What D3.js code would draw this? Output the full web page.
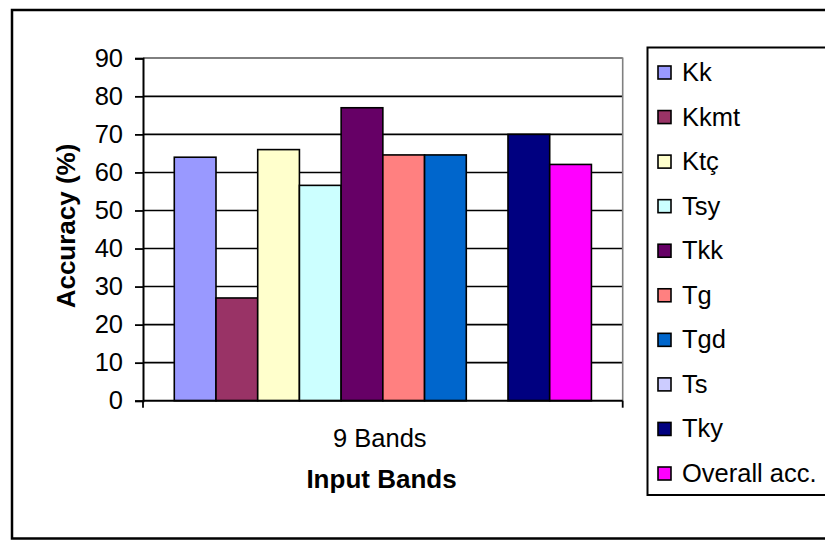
<!DOCTYPE html>
<html>
<head>
<meta charset="utf-8">
<script src="https://cdn.jsdelivr.net/npm/d3@7"></script>
<style>
  html, body { margin: 0; padding: 0; background: #fff; }
  svg { display: block; font-family: "Liberation Sans", Arial, sans-serif; }
</style>
</head>
<body>
<svg id="chart" width="825" height="542"></svg>
<script>
// Accuracy per class for the 9-band input
const categories = ["9 Bands"];
const seriesNames = ["Kk", "Kkmt", "Ktç", "Tsy", "Tkk", "Tg", "Tgd", "Ts", "Tky", "Overall acc."];
const seriesValues = [64, 27, 66, 56.6, 77, 64.6, 64.6, null, 70, 62.1];
const seriesColors = ["#9999FF", "#993366", "#FFFFCC", "#CCFFFF", "#660066",
                      "#FF8080", "#0066CC", "#CCCCFF", "#000080", "#FF00FF"];
const yTicks = [0, 10, 20, 30, 40, 50, 60, 70, 80, 90];

const labelSize = 25.5;
const titleSize = 26;

const svg = d3.select("#chart");

// outer chart frame
svg.append("rect")
  .attr("x", 12).attr("y", 10)
  .attr("width", 830).attr("height", 528.5)
  .attr("fill", "#fff").attr("stroke", "#000").attr("stroke-width", 2.5);

const plot = { left: 143, right: 622.7, top: 58.3, bottom: 400.7 };

const y = d3.scaleLinear().domain([0, 90]).range([plot.bottom, plot.top]);
const x0 = d3.scaleBand().domain(categories).range([plot.left, plot.right]);
const x1 = d3.scaleBand().domain(seriesNames)
  .range([0, x0.bandwidth()]).paddingInner(0).paddingOuter(0.75);

// horizontal gridlines
svg.append("g").selectAll("line")
  .data(yTicks.filter(d => d > 0))
  .join("line")
  .attr("x1", plot.left).attr("x2", plot.right)
  .attr("y1", d => y(d)).attr("y2", d => y(d))
  .attr("stroke", "#000").attr("stroke-width", 1.6);

// plot-area border (top and right in grey)
svg.append("path")
  .attr("d", `M${plot.left},${plot.top}H${plot.right}V${plot.bottom}`)
  .attr("fill", "none").attr("stroke", "#808080").attr("stroke-width", 1.6);

// bars
svg.append("g").selectAll("g")
  .data(categories)
  .join("g")
  .attr("transform", d => `translate(${x0(d)},0)`)
  .selectAll("rect")
  .data(() => seriesNames.map((n, i) => ({ name: n, value: seriesValues[i], color: seriesColors[i] }))
    .filter(d => d.value != null))
  .join("rect")
  .attr("x", d => x1(d.name))
  .attr("width", x1.bandwidth())
  .attr("y", d => y(d.value))
  .attr("height", d => y(0) - y(d.value))
  .attr("fill", d => d.color)
  .attr("stroke", "#000").attr("stroke-width", 1.6);

// y axis
const yAxis = svg.append("g")
  .attr("transform", `translate(${plot.left},0)`)
  .call(d3.axisLeft(y).tickValues(yTicks).tickSize(8).tickPadding(12).tickFormat(d3.format("d")));
yAxis.select(".domain").attr("stroke", "#000").attr("stroke-width", 2);
yAxis.selectAll(".tick line").attr("stroke", "#000").attr("stroke-width", 1.8);
yAxis.selectAll(".tick text")
  .attr("font-size", labelSize).attr("fill", "#000")
  .attr("font-family", "Liberation Sans, Arial, sans-serif");

// x axis: baseline with ticks at both band edges
const xAxis = svg.append("g")
  .attr("transform", `translate(0,${plot.bottom})`);
xAxis.append("line")
  .attr("x1", plot.left).attr("x2", plot.right)
  .attr("stroke", "#000").attr("stroke-width", 2);
xAxis.selectAll("line.edge")
  .data([plot.left, plot.right])
  .join("line").attr("class", "edge")
  .attr("x1", d => d).attr("x2", d => d)
  .attr("y1", 0).attr("y2", 7)
  .attr("stroke", "#000").attr("stroke-width", 1.8);
xAxis.selectAll("text")
  .data(categories)
  .join("text")
  .attr("x", d => x0(d) + x0.bandwidth() / 2 - 3)
  .attr("y", 46)
  .attr("text-anchor", "middle")
  .attr("font-size", labelSize)
  .text(d => d);

// axis titles
svg.append("text")
  .attr("x", 381.5).attr("y", 488)
  .attr("text-anchor", "middle")
  .attr("font-size", titleSize).attr("font-weight", "bold")
  .text("Input Bands");

svg.append("text")
  .attr("transform", `translate(75,226) rotate(-90)`)
  .attr("text-anchor", "middle")
  .attr("font-size", titleSize).attr("font-weight", "bold")
  .text("Accuracy (%)");

// legend
const legend = svg.append("g");
legend.append("rect")
  .attr("x", 647.5).attr("y", 47.5)
  .attr("width", 180).attr("height", 447.5)
  .attr("fill", "#fff").attr("stroke", "#000").attr("stroke-width", 2);

const rowY = d3.scalePoint().domain(seriesNames).range([72.5, 473.5]);
const items = legend.selectAll("g.item")
  .data(seriesNames.map((n, i) => ({ name: n, color: seriesColors[i] })))
  .join("g").attr("class", "item")
  .attr("transform", d => `translate(0,${rowY(d.name)})`);
items.append("rect")
  .attr("x", 658).attr("y", -6.5)
  .attr("width", 13).attr("height", 13)
  .attr("fill", d => d.color)
  .attr("stroke", "#000").attr("stroke-width", 1.6);
items.append("text")
  .attr("x", 682).attr("y", 8.5)
  .attr("font-size", labelSize)
  .text(d => d.name);
</script>
</body>
</html>
